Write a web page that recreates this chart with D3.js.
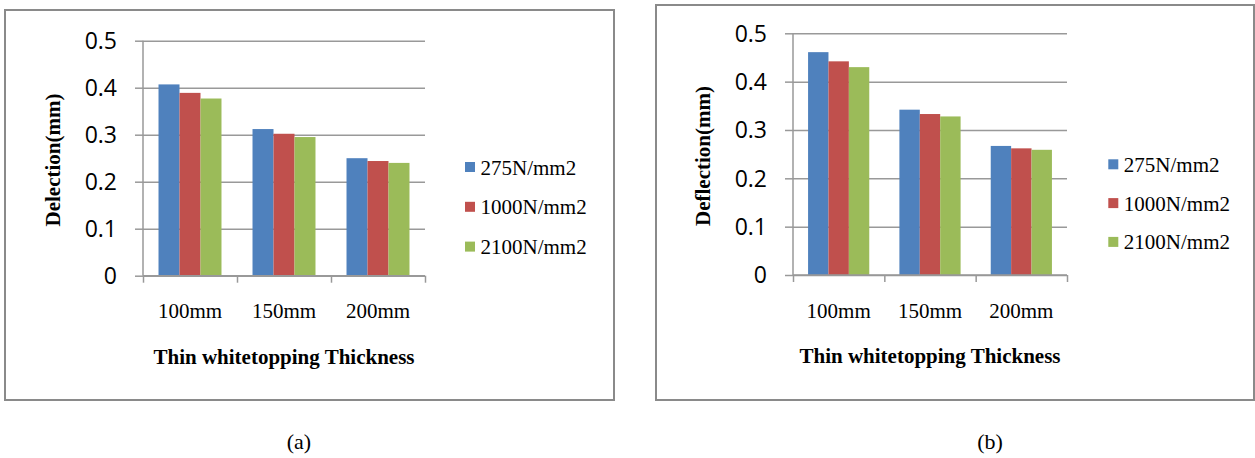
<!DOCTYPE html>
<html>
<head>
<meta charset="utf-8">
<script src="https://cdn.jsdelivr.net/npm/d3@7"></script>
<style>
  html, body { margin: 0; padding: 0; background: #fff; }
  svg { display: block; }
</style>
</head>
<body>
<svg id="chart" width="1255" height="458"></svg>
<script>
// ---- data ----
const categories = ["100mm", "150mm", "200mm"];
const seriesNames = ["275N/mm2", "1000N/mm2", "2100N/mm2"];
const seriesColors = ["#4F81BD", "#C0504D", "#9BBB59"];
const yTicks = [0, 0.1, 0.2, 0.3, 0.4, 0.5];
const yTickLabels = ["0", "0.1", "0.2", "0.3", "0.4", "0.5"];
// chart (a): Delection
const valuesA_275  = [0.407, 0.312, 0.250];
const valuesA_1000 = [0.389, 0.302, 0.244];
const valuesA_2100 = [0.377, 0.295, 0.240];
// chart (b): Deflection
const valuesB_275  = [0.461, 0.342, 0.267];
const valuesB_1000 = [0.442, 0.333, 0.262];
const valuesB_2100 = [0.430, 0.328, 0.259];
const yTitleA = "Delection(mm)";
const yTitleB = "Deflection(mm)";
const xTitle = "Thin whitetopping Thickness";
const captions = ["(a)", "(b)"];

const svg = d3.select("#chart");
const gridColor = "#999999";
const frameColor = "#8a8a8a";
const serif = "'Liberation Serif', 'Times New Roman', serif";
const sans = "'Open Sans', 'Liberation Sans', sans-serif";

function drawChart(cfg) {
  const g = svg.append("g");
  // frame
  g.append("rect")
    .attr("x", cfg.frame[0]).attr("y", cfg.frame[1])
    .attr("width", cfg.frame[2] - cfg.frame[0])
    .attr("height", cfg.frame[3] - cfg.frame[1])
    .attr("fill", "none").attr("stroke", frameColor).attr("stroke-width", 2);

  const x0 = d3.scaleBand().domain(categories)
    .range([cfg.left, cfg.right]).paddingInner(0.33).paddingOuter(0.165);
  const x1 = d3.scaleBand().domain(seriesNames).range([0, x0.bandwidth()]);
  const y = d3.scaleLinear().domain([0, 0.5]).range([cfg.bottom, cfg.top]);
  const xEdges = d3.scaleLinear().domain([0, categories.length]).range([cfg.left, cfg.right]);

  // gridlines
  const grid = g.append("g").attr("transform", `translate(${cfg.left},0)`)
    .call(d3.axisRight(y).tickValues(yTicks).tickSize(cfg.right - cfg.left).tickFormat(""));
  grid.select(".domain").remove();
  grid.selectAll("line").attr("stroke", gridColor).attr("stroke-width", 1.5);

  // y axis
  const yAx = g.append("g").attr("transform", `translate(${cfg.left},0)`)
    .call(d3.axisLeft(y).tickValues(yTicks).tickSize(8).tickPadding(18)
      .tickFormat((d, i) => yTickLabels[i]));
  yAx.select(".domain").attr("stroke", gridColor).attr("stroke-width", 1.5).attr("d", `M0,${cfg.bottom}V${cfg.top}`);
  yAx.selectAll("line").attr("stroke", gridColor).attr("stroke-width", 1.5);
  yAx.selectAll("text").attr("font-family", sans).attr("font-size", 23).attr("fill", "#000").attr("dy", "0.34em");

  // bars
  const seriesVals = cfg.values;
  seriesNames.forEach((s, si) => {
    g.append("g").selectAll("rect").data(categories).join("rect")
      .attr("x", c => x0(c) + x1(s))
      .attr("y", (c, ci) => y(seriesVals[si][ci]))
      .attr("width", x1.bandwidth())
      .attr("height", (c, ci) => y(0) - y(seriesVals[si][ci]))
      .attr("fill", seriesColors[si]);
  });

  // x axis line and ticks
  const xAx = g.append("g").attr("transform", `translate(0,${cfg.bottom})`)
    .call(d3.axisBottom(xEdges).tickValues(d3.range(categories.length + 1)).tickSize(7).tickFormat(""));
  xAx.select(".domain").attr("stroke", gridColor).attr("stroke-width", 1.5).attr("d", `M${cfg.left},0H${cfg.right}`);
  xAx.selectAll("line").attr("stroke", gridColor).attr("stroke-width", 1.5);

  // category labels
  g.append("g").selectAll("text").data(categories).join("text")
    .attr("x", c => x0(c) + x0.bandwidth() / 2)
    .attr("y", cfg.catBase)
    .attr("text-anchor", "middle")
    .attr("font-family", serif).attr("font-size", 21).attr("fill", "#000")
    .text(c => c);

  // x title
  g.append("text")
    .attr("x", (cfg.left + cfg.right) / 2).attr("y", cfg.xTitleBase)
    .attr("text-anchor", "middle")
    .attr("font-family", serif).attr("font-size", 21).attr("font-weight", "bold")
    .text(xTitle);

  // y title
  g.append("text")
    .attr("transform", `translate(${cfg.yTitle[0]},${cfg.yTitle[1]}) rotate(-90)`)
    .attr("text-anchor", "middle").attr("dy", "0.35em")
    .attr("font-family", serif).attr("font-size", 21).attr("font-weight", "bold")
    .text(cfg.yTitleText);

  // legend
  const lg = g.append("g");
  seriesNames.forEach((s, si) => {
    const cy = cfg.legend.y0 + si * cfg.legend.step;
    lg.append("rect")
      .attr("x", cfg.legend.x).attr("y", cy - 5)
      .attr("width", 10).attr("height", 10)
      .attr("fill", seriesColors[si]);
    lg.append("text")
      .attr("x", cfg.legend.x + 15.5).attr("y", cy + 7.5)
      .attr("font-family", serif).attr("font-size", 21).attr("fill", "#000")
      .text(s);
  });

  // caption
  g.append("text")
    .attr("x", cfg.caption[0]).attr("y", cfg.caption[1])
    .attr("text-anchor", "middle")
    .attr("font-family", serif).attr("font-size", 22).attr("fill", "#000")
    .text(cfg.captionText);
}

drawChart({
  frame: [5, 10, 614, 400],
  left: 143, right: 425, top: 40.7, bottom: 275.7,
  values: [valuesA_275, valuesA_1000, valuesA_2100],
  catBase: 318, xTitleBase: 364,
  yTitle: [52.5, 160], yTitleText: yTitleA,
  legend: { x: 465, y0: 167, step: 39.8 },
  caption: [299, 449], captionText: captions[0]
});

drawChart({
  frame: [656, 5, 1254, 400],
  left: 793, right: 1067, top: 33.3, bottom: 275,
  values: [valuesB_275, valuesB_1000, valuesB_2100],
  catBase: 318, xTitleBase: 363,
  yTitle: [702.5, 156], yTitleText: yTitleB,
  legend: { x: 1108.3, y0: 164.3, step: 38.8 },
  caption: [990, 449], captionText: captions[1]
});
</script>
</body>
</html>
